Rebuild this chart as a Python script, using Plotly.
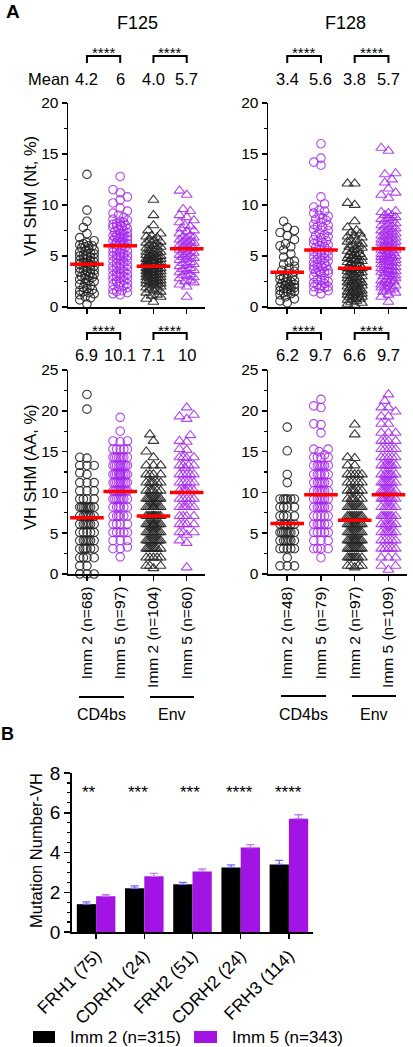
import math
import plotly.graph_objects as go

W, H = 413, 1047
FONT = "Arial, Liberation Sans, sans-serif"
BLACK_PT = "rgba(35,35,35,0.9)"
PURPLE_PT = "rgba(165,40,235,0.85)"
PURPLE_BAR = "#a114e4"

# ---------------- Panel A data ----------------
groups_A = ["Imm 2", "Imm 5", "Imm 2", "Imm 5"]
n_F125 = [68, 97, 104, 60]
n_F128 = [48, 79, 97, 109]
mean_nt_F125 = [4.2, 6.0, 4.0, 5.7]
mean_nt_F128 = [3.4, 5.6, 3.8, 5.7]
mean_aa_F125 = [6.9, 10.1, 7.1, 10.0]
mean_aa_F128 = [6.2, 9.7, 6.6, 9.7]
mean_txt_nt_F125 = ["4.2", "6", "4.0", "5.7"]
mean_txt_nt_F128 = ["3.4", "5.6", "3.8", "5.7"]
mean_txt_aa_F125 = ["6.9", "10.1", "7.1", "10"]
mean_txt_aa_F128 = ["6.2", "9.7", "6.6", "9.7"]

nt_F125_cd4_imm2 = [13.0, 9.5, 8.4, 7.8, 7.2, 6.8, 6.5, 6.3, 6.1, 6.0, 5.8, 5.7, 5.5, 5.4, 5.3, 5.1, 5.0, 4.9, 4.8, 4.6,
                    4.5, 4.4, 4.3, 4.1, 4.0, 3.9, 3.8, 3.6, 3.5, 3.4, 3.2, 3.1, 3.0, 2.9, 2.7, 2.6, 2.4, 2.2, 2.1, 1.9,
                    1.7, 1.6, 1.5, 1.4, 1.2, 1.0, 0.7, 0.3, 5.9, 5.2, 4.7, 4.2, 3.7, 3.3, 2.8, 6.2, 5.6, 4.0, 3.0, 1.8,
                    1.3, 4.4, 5.0, 6.0, 2.5, 3.6, 4.8, 0.9]
nt_F125_cd4_imm5 = [12.8, 11.5, 11.2, 10.8, 10.5, 10.2, 9.7, 9.4, 9.0, 8.8, 8.6, 8.4, 8.2, 8.1, 8.0, 7.9, 7.7, 7.5, 7.4, 7.2,
                    7.0, 6.9, 6.8, 6.6, 6.5, 6.3, 6.2, 6.0, 5.9, 5.7, 5.6, 5.4, 5.2, 5.0, 4.9, 4.7, 4.5, 4.3, 4.1, 4.0,
                    3.8, 3.6, 3.4, 3.3, 3.1, 2.9, 2.7, 2.5, 2.3, 2.1, 1.9, 1.7, 1.5, 1.3, 8.3, 7.8, 7.3, 6.7, 6.4, 5.5,
                    5.0, 4.4, 3.5, 2.8, 2.2, 1.6, 7.6, 6.9, 6.1, 5.3, 4.6, 3.9, 3.2, 2.6, 8.5, 7.1, 6.6, 5.8, 4.8, 4.2,
                    3.0, 2.0, 1.2, 9.2, 7.9, 6.3, 5.1, 3.7, 8.0, 7.0, 6.0, 5.0, 4.0, 3.0, 2.4, 1.4, 6.8]
nt_F125_env_imm2 = [10.5, 9.0, 8.0, 7.5, 7.2, 7.0, 6.8, 6.6, 6.5, 6.3, 6.2, 6.0, 5.9, 5.8, 5.7, 5.5, 5.4, 5.3, 5.2, 5.0,
                    4.9, 4.8, 4.7, 4.6, 4.5, 4.4, 4.3, 4.2, 4.1, 4.0, 3.9, 3.8, 3.7, 3.6, 3.5, 3.4, 3.3, 3.2, 3.1, 3.0,
                    2.9, 2.8, 2.7, 2.6, 2.5, 2.4, 2.3, 2.2, 2.1, 2.0, 1.8, 1.6, 1.4, 1.2, 1.0, 0.8, 0.5, 5.6, 5.1, 4.6,
                    4.1, 3.6, 3.1, 2.6, 6.1, 5.4, 4.8, 4.3, 3.8, 3.3, 2.8, 2.3, 1.7, 5.0, 4.4, 3.9, 3.4, 2.9, 6.4, 4.0,
                    3.5, 1.9, 1.5, 4.7, 4.2, 3.7, 3.0, 2.5, 5.3, 6.9, 2.2, 1.1, 3.2, 4.5]
nt_F125_env_imm5 = [11.4, 11.0, 9.6, 9.4, 9.0, 8.8, 8.5, 8.0, 7.7, 7.4, 7.2, 7.0, 6.8, 6.7, 6.5, 6.3, 6.1, 6.0, 5.8, 5.7,
                    5.5, 5.3, 5.1, 5.0, 4.8, 4.6, 4.4, 4.2, 4.0, 3.8, 3.6, 3.4, 3.2, 3.0, 2.8, 2.6, 2.4, 2.2, 2.0, 1.0,
                    7.5, 6.9, 6.4, 5.9, 5.4, 4.9, 4.3, 3.7, 3.1, 2.5, 8.3, 7.9, 6.2, 5.6, 4.7, 4.1, 3.5, 2.9, 6.6, 5.2]

nt_F128_cd4_imm2 = [8.4, 7.8, 7.5, 7.3, 7.0, 6.6, 6.2, 5.9, 5.6, 5.2, 4.9, 4.5, 4.2, 4.0, 3.8, 3.5, 3.3, 3.1, 2.9, 2.7,
                    2.5, 2.4, 2.3, 2.2, 2.1, 2.0, 1.9, 1.8, 1.7, 1.6, 1.5, 1.4, 1.2, 1.0, 0.8, 0.4, 2.6, 2.0, 1.8, 3.0,
                    2.2, 1.5, 6.0, 4.4, 3.6, 2.8, 1.3, 0.6]
nt_F128_cd4_imm5 = [16.0, 14.6, 14.2, 13.9, 10.8, 10.1, 9.8, 9.4, 9.2, 9.0, 8.7, 8.5, 8.3, 8.0, 7.8, 7.5, 7.3, 7.0, 6.8,
                    6.6, 6.4, 6.2, 6.0, 5.8, 5.6, 5.4, 5.2, 5.0, 4.8, 4.6, 4.4, 4.2, 4.0, 3.8, 3.6, 3.4, 3.2, 3.0, 2.8,
                    2.6, 2.4, 2.2, 2.0, 1.8, 1.6, 1.3, 8.9, 7.6, 6.5, 5.5, 4.5, 3.5, 2.1, 1.9, 8.1, 6.9, 5.9, 4.1, 3.3,
                    2.3, 7.1, 6.1, 4.9, 4.3, 3.7, 2.0, 9.5, 8.6, 5.3, 4.0, 3.4, 2.5, 7.9, 6.3, 5.1, 4.7, 3.9, 1.5, 2.7]
nt_F128_env_imm2 = [12.1, 12.1, 10.2, 10.0, 8.4, 7.8, 7.5, 7.3, 7.0, 6.8, 6.6, 6.4, 6.2, 6.0, 5.8, 5.6, 5.4, 5.2, 5.0,
                    4.8, 4.6, 4.4, 4.2, 4.0, 3.8, 3.6, 3.4, 3.2, 3.0, 2.8, 2.6, 2.4, 2.2, 2.0, 1.8, 1.6, 1.4, 1.2, 1.0,
                    0.8, 0.6, 0.4, 0.2, 6.1, 5.5, 4.9, 4.3, 3.7, 3.1, 2.5, 1.9, 1.3, 0.7, 5.9, 5.1, 4.5, 3.9, 3.3, 2.7,
                    2.1, 1.5, 0.9, 6.5, 4.1, 3.5, 2.9, 2.3, 1.7, 1.1, 0.5, 7.2, 5.3, 4.7, 3.0, 2.0, 1.4, 0.3, 4.0, 2.6,
                    1.8, 6.9, 5.7, 3.4, 2.2, 1.0, 3.6, 2.8, 1.6, 4.6, 0.8, 2.4, 1.2, 3.8, 5.0, 1.5]
nt_F128_env_imm5 = [15.6, 15.3, 13.1, 13.0, 12.5, 12.2, 11.6, 11.2, 11.0, 10.7, 9.3, 9.2, 9.0, 8.8, 8.6, 8.4, 8.2, 8.0,
                    7.8, 7.6, 7.4, 7.2, 7.0, 6.8, 6.6, 6.4, 6.2, 6.0, 5.8, 5.6, 5.4, 5.2, 5.0, 4.8, 4.6, 4.4, 4.2, 4.0,
                    3.8, 3.6, 3.4, 3.2, 3.0, 2.8, 2.6, 2.4, 2.2, 2.0, 1.8, 1.6, 1.4, 1.0, 0.5, 8.7, 7.9, 7.1, 6.5, 5.9,
                    5.3, 4.7, 4.1, 3.5, 2.9, 2.3, 1.7, 8.1, 7.3, 6.7, 6.1, 5.5, 4.9, 4.3, 3.7, 3.1, 2.5, 1.9, 9.0, 7.7,
                    6.9, 6.3, 5.7, 5.1, 4.5, 3.9, 3.3, 2.7, 2.1, 1.5, 8.5, 7.5, 6.0, 5.0, 4.0, 3.0, 2.0, 6.6, 5.6, 4.6,
                    3.6, 9.4, 7.0, 5.2, 4.4, 3.4, 2.6, 6.4, 4.8, 1.2, 5.8]

aa_F125_cd4_imm2 = [22.0, 20.2, 14.2, 13.3, 13.3, 12.4, 11.2, 11.2, 10.2, 10.2, 9.2, 9.2, 9.2, 8.2, 8.2, 8.2, 8.2, 8.2,
                    8.2, 7.1, 7.1, 7.1, 7.1, 7.1, 6.1, 6.1, 6.1, 6.1, 6.1, 5.1, 5.1, 5.1, 5.1, 4.1, 4.1, 4.1, 4.1, 4.1,
                    4.1, 3.1, 3.1, 3.1, 3.1, 3.1, 2.0, 2.0, 2.0, 1.0, 1.0, 0.0, 0.0, 9.2, 8.2, 7.1, 6.1, 5.1, 4.1, 3.1,
                    2.0, 10.2, 11.2, 12.2, 13.3, 14.3, 7.1, 8.2, 6.1, 0.0]
aa_F125_cd4_imm5 = [19.2, 17.5, 16.3, 16.2, 15.3, 15.3, 15.3, 14.3, 14.3, 14.3, 14.3, 13.3, 13.3, 13.3, 13.3, 13.3,
                    12.2, 12.2, 12.2, 12.2, 12.2, 12.2, 11.2, 11.2, 11.2, 11.2, 11.2, 10.2, 10.2, 10.2, 10.2, 10.2,
                    9.2, 9.2, 9.2, 9.2, 8.2, 8.2, 8.2, 8.2, 7.1, 7.1, 7.1, 7.1, 6.1, 6.1, 6.1, 5.1, 5.1, 5.1, 4.1, 4.1,
                    3.3, 3.1, 2.1, 15.3, 14.3, 13.3, 12.2, 11.2, 10.2, 9.2, 12.2, 13.3, 11.2, 10.2, 14.3, 12.2, 8.2,
                    7.1, 9.2, 11.2, 13.3, 12.2, 10.2, 6.1, 5.1, 16.3, 15.3, 14.3, 13.3, 12.2, 11.2, 10.2, 9.2, 8.2,
                    7.1, 4.1, 3.1, 12.2, 11.2, 13.3, 14.3, 10.2, 9.2, 5.1, 12.2]
aa_F125_env_imm2 = [17.1, 16.3, 15.0, 13.3, 13.3, 12.2, 12.2, 12.2, 11.2, 11.2, 11.2, 11.2, 10.2, 10.2, 10.2, 10.2, 9.2,
                    9.2, 9.2, 9.2, 9.2, 9.2, 8.2, 8.2, 8.2, 8.2, 8.2, 8.2, 8.2, 7.1, 7.1, 7.1, 7.1, 7.1, 7.1, 7.1, 6.1,
                    6.1, 6.1, 6.1, 6.1, 6.1, 6.1, 5.1, 5.1, 5.1, 5.1, 5.1, 5.1, 4.1, 4.1, 4.1, 4.1, 4.1, 4.1, 3.1, 3.1,
                    3.1, 3.1, 3.1, 2.0, 2.0, 2.0, 1.0, 1.0, 0.7, 14.3, 12.2, 11.2, 10.2, 9.2, 8.2, 7.1, 6.1, 5.1, 4.1,
                    3.1, 2.0, 13.3, 10.2, 9.2, 8.2, 7.1, 6.1, 5.1, 4.1, 3.1, 8.2, 7.1, 6.1, 5.1, 9.2, 7.1, 6.1, 4.1,
                    11.2, 8.2, 5.1, 3.1, 2.0, 1.0, 6.1, 7.1, 8.2]
aa_F125_env_imm5 = [20.4, 19.5, 19.3, 19.0, 17.0, 16.3, 15.2, 14.3, 14.3, 14.2, 13.3, 13.3, 13.0, 12.2, 12.2, 12.2, 11.2,
                    11.2, 11.2, 10.2, 10.2, 10.2, 10.2, 9.2, 9.2, 9.2, 8.2, 8.2, 8.2, 8.2, 7.1, 7.1, 7.1, 6.1, 6.1, 6.1,
                    5.1, 5.1, 4.8, 4.1, 3.8, 0.8, 15.3, 14.3, 13.3, 12.2, 11.2, 10.2, 9.2, 8.2, 7.1, 6.1, 12.2, 10.2,
                    9.2, 11.2, 13.3, 16.2, 5.1, 8.2]

aa_F128_cd4_imm2 = [18.0, 15.1, 12.2, 11.2, 9.2, 9.2, 9.2, 9.2, 9.2, 8.2, 8.2, 8.2, 7.1, 7.1, 7.1, 6.1, 6.1, 6.1, 6.1, 5.1,
                    5.1, 5.1, 5.1, 5.1, 5.1, 4.1, 4.1, 4.1, 4.1, 4.1, 3.1, 3.1, 3.1, 3.1, 2.0, 1.0, 1.0, 1.0, 6.1, 5.1,
                    4.1, 3.1, 7.1, 8.2, 9.2, 5.1, 4.1, 6.1]
aa_F128_cd4_imm5 = [21.4, 20.6, 20.4, 18.4, 18.3, 17.3, 15.3, 15.0, 14.6, 14.3, 14.3, 13.3, 13.3, 13.3, 13.3, 12.2, 12.2,
                    12.2, 11.2, 11.2, 11.2, 11.2, 10.2, 10.2, 10.2, 9.2, 9.2, 9.2, 9.2, 8.2, 8.2, 8.2, 8.2, 7.1, 7.1,
                    7.1, 6.1, 6.1, 6.1, 6.1, 5.1, 5.1, 5.1, 4.1, 4.1, 3.1, 3.1, 3.1, 2.0, 15.3, 14.3, 13.3, 12.2, 11.2,
                    10.2, 9.2, 8.2, 7.1, 6.1, 5.1, 13.3, 11.2, 10.2, 9.2, 8.2, 12.2, 10.2, 6.1, 4.1, 14.3, 11.2, 9.2,
                    7.1, 13.3, 12.2, 10.2, 8.2, 5.1, 3.1]
aa_F128_env_imm2 = [18.3, 17.1, 14.3, 14.2, 13.3, 13.3, 12.2, 12.2, 12.2, 11.2, 11.2, 11.2, 10.2, 10.2, 10.2, 10.2, 9.2,
                    9.2, 9.2, 9.2, 8.2, 8.2, 8.2, 8.2, 8.2, 7.1, 7.1, 7.1, 7.1, 7.1, 6.1, 6.1, 6.1, 6.1, 6.1, 6.1, 5.1,
                    5.1, 5.1, 5.1, 5.1, 4.1, 4.1, 4.1, 4.1, 4.1, 4.1, 3.1, 3.1, 3.1, 3.1, 3.1, 2.0, 2.0, 2.0, 2.0, 2.0,
                    1.0, 1.0, 0.8, 12.2, 11.2, 10.2, 9.2, 8.2, 7.1, 6.1, 5.1, 4.1, 3.1, 2.0, 1.0, 10.2, 8.2, 7.1, 6.1,
                    5.1, 4.1, 3.1, 2.0, 9.2, 8.2, 6.1, 5.1, 4.1, 3.1, 11.2, 7.1, 4.1, 2.0, 1.0, 12.2, 8.2, 6.1, 3.1,
                    5.1, 7.1]
aa_F128_env_imm5 = [22.0, 21.2, 20.4, 19.9, 19.3, 18.4, 17.3, 16.3, 16.3, 15.3, 15.3, 15.3, 14.3, 14.3, 14.3, 13.3, 13.3,
                    13.3, 13.3, 12.2, 12.2, 12.2, 12.2, 11.2, 11.2, 11.2, 11.2, 10.2, 10.2, 10.2, 10.2, 10.2, 9.2, 9.2,
                    9.2, 9.2, 8.2, 8.2, 8.2, 8.2, 7.1, 7.1, 7.1, 7.1, 6.1, 6.1, 6.1, 6.1, 5.1, 5.1, 5.1, 5.1, 4.1, 4.1,
                    4.1, 3.1, 3.1, 3.1, 2.0, 2.0, 1.0, 0.5, 20.4, 18.4, 17.3, 16.3, 15.3, 14.3, 13.3, 12.2, 11.2, 10.2,
                    9.2, 8.2, 7.1, 6.1, 5.1, 4.1, 3.1, 2.0, 15.3, 14.3, 13.3, 12.2, 11.2, 10.2, 9.2, 8.2, 7.1, 6.1,
                    5.1, 4.1, 3.1, 1.0, 12.2, 11.2, 10.2, 9.2, 8.2, 7.1, 6.1, 13.3, 11.2, 9.2, 7.1, 5.1, 19.3, 17.3,
                    16.3]

# ---------------- Panel B data ----------------
regions_B = ["FRH1 (75)", "CDRH1 (24)", "FRH2 (51)", "CDRH2 (24)", "FRH3 (114)"]
imm2_B = [1.4, 2.2, 2.4, 3.25, 3.4]
imm2_B_err = [0.12, 0.12, 0.1, 0.13, 0.2]
imm5_B = [1.8, 2.8, 3.05, 4.25, 5.7]
imm5_B_err = [0.08, 0.15, 0.12, 0.15, 0.2]
stars_B = ["**", "***", "***", "****", "****"]
legend_B = ["Imm 2 (n=315)", "Imm 5 (n=343)"]


def px(x):
    return x / W


def py(y):
    return 1 - y / H


fig = go.Figure()

panels = {
    "nt125": dict(ax="", x0=68, x1=205, yt=103, yb=307, ymax=20),
    "nt128": dict(ax="2", x0=268, x1=407, yt=103, yb=307, ymax=20),
    "aa125": dict(ax="3", x0=68, x1=205, yt=370, yb=574, ymax=25),
    "aa128": dict(ax="4", x0=268, x1=407, yt=370, yb=574, ymax=25),
}
XR = [0.43, 4.55]


def swarm(vals, center, xppu, yppu, step=3.6, dist=7.0):
    order = sorted(range(len(vals)), key=lambda i: (vals[i], i))
    cands = [0, -step, step, -2 * step, 2 * step, -0.5 * step, 0.5 * step, -1.5 * step, 1.5 * step]
    placed = []
    xs = [0.0] * len(vals)
    for i in order:
        yv = vals[i] * yppu
        best, bestd = 0, -1
        for c in cands:
            md = float("inf")
            for (pxo, pyo) in placed:
                if abs(yv - pyo) < dist:
                    d = math.hypot(c - pxo, yv - pyo)
                    if d < md:
                        md = d
            if md >= dist:
                best = c
                break
            if md > bestd:
                bestd, best = md, c
        placed.append((best, yv))
        xs[i] = center + best / xppu
    return xs


panel_data = {
    "nt125": [nt_F125_cd4_imm2, nt_F125_cd4_imm5, nt_F125_env_imm2, nt_F125_env_imm5],
    "nt128": [nt_F128_cd4_imm2, nt_F128_cd4_imm5, nt_F128_env_imm2, nt_F128_env_imm5],
    "aa125": [aa_F125_cd4_imm2, aa_F125_cd4_imm5, aa_F125_env_imm2, aa_F125_env_imm5],
    "aa128": [aa_F128_cd4_imm2, aa_F128_cd4_imm5, aa_F128_env_imm2, aa_F128_env_imm5],
}
panel_means = {"nt125": mean_nt_F125, "nt128": mean_nt_F128, "aa125": mean_aa_F125, "aa128": mean_aa_F128}
panel_mean_txt = {"nt125": mean_txt_nt_F125, "nt128": mean_txt_nt_F128,
                  "aa125": mean_txt_aa_F125, "aa128": mean_txt_aa_F128}
panel_n = {"nt125": n_F125, "nt128": n_F128, "aa125": n_F125, "aa128": n_F128}

symbols = ["circle-open", "circle-open", "triangle-up-open", "triangle-up-open"]
colors = [BLACK_PT, PURPLE_PT, BLACK_PT, PURPLE_PT]
sizes = [8.5, 8.5, 9.5, 9.5]

layout_axes = {}
for key, p in panels.items():
    ax = p["ax"]
    xppu = (p["x1"] - p["x0"]) / (XR[1] - XR[0])
    yppu = (p["yb"] - p["yt"]) / p["ymax"]
    for gi, vals in enumerate(panel_data[key]):
        xs = swarm(vals, gi + 1, xppu, yppu)
        fig.add_trace(go.Scatter(
            x=xs, y=vals, mode="markers", xaxis="x" + ax, yaxis="y" + ax, cliponaxis=False,
            marker=dict(symbol=symbols[gi], size=sizes[gi], color=colors[gi],
                        line=dict(width=1.1, color=colors[gi])),
            showlegend=False, hoverinfo="skip"))
    fig.add_trace(go.Scatter(
        x=[1, 2, 3, 4], y=panel_means[key], mode="markers", xaxis="x" + ax, yaxis="y" + ax,
        cliponaxis=False,
        marker=dict(symbol="line-ew", size=24, color="#ff0000", line=dict(width=3.5, color="#ff0000")),
        showlegend=False, hoverinfo="skip"))

    is_bottom = key.startswith("aa")
    ticktext = [f"{g} (n={n})" for g, n in zip(groups_A, panel_n[key])]
    layout_axes["xaxis" + ax] = dict(
        domain=[px(p["x0"]), px(p["x1"])], range=XR, anchor="y" + ax, automargin=False,
        tickvals=[1, 2, 3, 4], ticktext=ticktext, showticklabels=is_bottom, tickangle=-90,
        ticks="outside", ticklen=5, tickwidth=1.5, tickcolor="black",
        showline=True, linecolor="black", linewidth=1.5, showgrid=False, zeroline=False,
        tickfont=dict(family=FONT, size=15.5, color="black"))
    ymax = p["ymax"]
    layout_axes["yaxis" + ax] = dict(
        domain=[py(p["yb"]), py(p["yt"])], range=[0, ymax], anchor="x" + ax, automargin=False,
        tickvals=list(range(0, ymax + 1, 5)), ticks="outside", ticklen=5, tickwidth=1.5, tickcolor="black",
        minor=dict(tickvals=[v + 2.5 for v in range(0, ymax, 5)], ticks="outside", ticklen=3,
                   tickwidth=1.2, tickcolor="black"),
        showline=True, linecolor="black", linewidth=1.5, showgrid=False, zeroline=False,
        tickfont=dict(family=FONT, size=15.5, color="black"))

# ---------------- Panel B ----------------
fig.add_trace(go.Bar(
    x=regions_B, y=imm2_B, xaxis="x5", yaxis="y5", marker=dict(color="black", line=dict(width=0)),
    error_y=dict(type="data", array=imm2_B_err, arrayminus=[0] * 5, symmetric=False,
                 color="#6b6bf5", thickness=1.3, width=4),
    showlegend=False, hoverinfo="skip"))
fig.add_trace(go.Bar(
    x=regions_B, y=imm5_B, xaxis="x5", yaxis="y5", marker=dict(color=PURPLE_BAR, line=dict(width=0)),
    error_y=dict(type="data", array=imm5_B_err, arrayminus=[0] * 5, symmetric=False,
                 color="#c27cf2", thickness=1.3, width=4),
    showlegend=False, hoverinfo="skip"))

layout_axes["xaxis5"] = dict(
    domain=[px(72), px(313)], range=[-0.5, 4.5], anchor="y5", type="category", automargin=False,
    tickangle=-45, ticks="outside", ticklen=5, tickwidth=1.5, tickcolor="black",
    showline=True, linecolor="black", linewidth=1.8, showgrid=False, zeroline=False,
    tickfont=dict(family=FONT, size=17.5, color="black"))
layout_axes["yaxis5"] = dict(
    domain=[py(932), py(773)], range=[0, 8], anchor="x5", automargin=False,
    tickvals=[0, 2, 4, 6, 8], ticks="outside", ticklen=6, tickwidth=1.5, tickcolor="black",
    minor=dict(dtick=0.5, ticks="outside", ticklen=3.5, tickwidth=1.2, tickcolor="black"),
    showline=True, linecolor="black", linewidth=1.8, showgrid=False, zeroline=False,
    tickfont=dict(family=FONT, size=19, color="black"))

annotations = []
shapes = []


def txt(x, y, s, size, xref="paper", yref="paper", xanchor="center", yanchor="middle", angle=0, bold=False,
        xshift=0):
    annotations.append(dict(
        x=x, y=y, xref=xref, yref=yref, text=(f"<b>{s}</b>" if bold else s), showarrow=False,
        xanchor=xanchor, yanchor=yanchor, textangle=angle, xshift=xshift,
        font=dict(family=FONT, size=size, color="black")))


txt(px(13), py(11), "A", 19, bold=True)
txt(px(7), py(734), "B", 18, bold=True)
txt(px(137), py(23), "F125", 18)
txt(px(345), py(23), "F128", 18)

txt(px(30), py(196), "VH SHM (Nt, %)", 16.5, angle=-90)
txt(px(30), py(467), "VH SHM (AA, %)", 16.5, angle=-90)
txt(px(36), py(851), "Mutation Number-VH", 16.5, angle=-90)

bracket_rows = {"nt125": (49, 56, 63, 79), "nt128": (49, 56, 63, 79),
                "aa125": (326, 333, 340, 355), "aa128": (326, 333, 340, 355)}
for key, p in panels.items():
    ax = p["ax"]
    ys, yl, ye, ym = bracket_rows[key]
    xr = "x" + ax
    for a, b in [(1, 2), (3, 4)]:
        shapes.append(dict(type="path", xref=xr, yref="paper",
                           path=f"M {a},{py(ye)} L {a},{py(yl)} L {b},{py(yl)} L {b},{py(ye)}",
                           line=dict(color="black", width=2)))
        txt((a + b) / 2, py(ys + 4), "****", 15, xref=xr)
    for i, t in enumerate(panel_mean_txt[key]):
        txt(i + 1, py(ym), t, 16.5, xref=xr)
txt(px(48), py(79), "Mean", 16.5)

for (x0, x1, yline, label) in [(79, 124, 697, "CD4bs"), (150, 194, 697, "Env"),
                               (281, 326, 696, "CD4bs"), (352, 396, 696, "Env")]:
    shapes.append(dict(type="line", xref="paper", yref="paper", x0=px(x0), x1=px(x1), y0=py(yline),
                       y1=py(yline), line=dict(color="black", width=2)))
    txt(px((x0 + x1) / 2), py(714), label, 16)

star_shift = [-7, -6, -3, -1, 0]
for i, s in enumerate(stars_B):
    txt(regions_B[i], 7.0, s, 17, xref="x5", yref="y5", xshift=star_shift[i])

for (x0, x1, color, tx, label) in [(33, 55, "black", 68, legend_B[0]), (194, 217, PURPLE_BAR, 230, legend_B[1])]:
    shapes.append(dict(type="rect", xref="paper", yref="paper", x0=px(x0), x1=px(x1), y0=py(1043), y1=py(1031),
                       fillcolor=color, line=dict(width=0)))
    txt(px(tx), py(1037), label, 17, xanchor="left")

fig.update_layout(
    width=W, height=H, autosize=False, margin=dict(l=0, r=0, t=0, b=0, autoexpand=False),
    paper_bgcolor="white", plot_bgcolor="white", barmode="group", bargap=0.2, bargroupgap=0,
    showlegend=False, annotations=annotations, shapes=shapes,
    font=dict(family=FONT, color="black"), **layout_axes)

fig.write_html("out.html", config={"displayModeBar": False, "staticPlot": True},
               post_script="document.body.style.margin='0';document.body.style.overflow='hidden';")
